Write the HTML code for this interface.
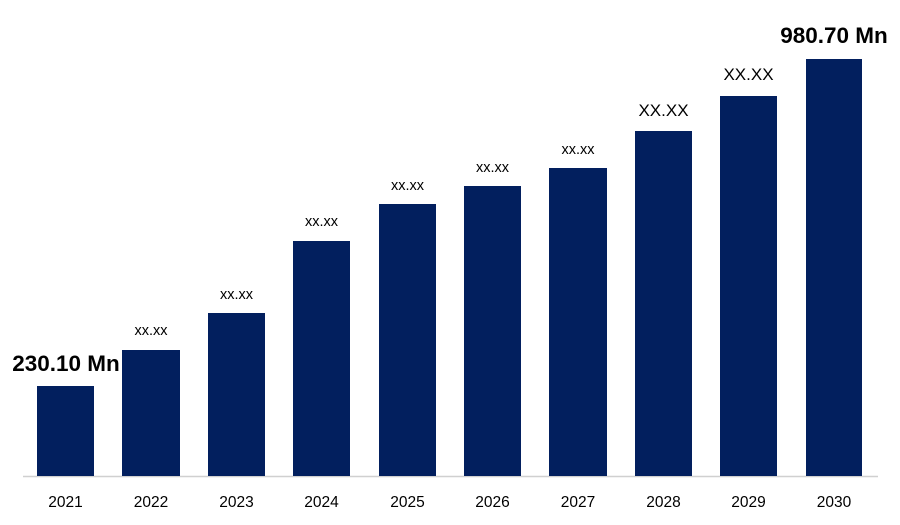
<!DOCTYPE html>
<html><head><style>body{margin:0;background:#fff}svg{display:block}</style></head><body>
<svg width="900" height="525" xmlns="http://www.w3.org/2000/svg" font-family="Liberation Sans, sans-serif">
<line x1="23" y1="476.5" x2="878" y2="476.5" stroke="#d0d0d0" stroke-width="1.5"/>
<g fill="#021f5e">
<rect x="37" y="386" width="57" height="90"/>
<rect x="122" y="350" width="58" height="126"/>
<rect x="208" y="313" width="57" height="163"/>
<rect x="293" y="241" width="57" height="235"/>
<rect x="379" y="204" width="57" height="272"/>
<rect x="464" y="186" width="57" height="290"/>
<rect x="549" y="168" width="58" height="308"/>
<rect x="635" y="131" width="57" height="345"/>
<rect x="720" y="96" width="57" height="380"/>
<rect x="806" y="59" width="56" height="417"/>
</g>
<g font-size="15.5" fill="#000" text-anchor="middle">
<text x="65.5" y="507">2021</text><text x="151" y="507">2022</text><text x="236.5" y="507">2023</text>
<text x="321.5" y="507">2024</text><text x="407.5" y="507">2025</text><text x="492.5" y="507">2026</text>
<text x="578" y="507">2027</text><text x="663.5" y="507">2028</text><text x="748.5" y="507">2029</text>
<text x="834" y="507">2030</text>
</g>
<g font-size="14.5" fill="#000" text-anchor="middle">
<text x="151" y="335">xx.xx</text><text x="236.5" y="299">xx.xx</text><text x="321.5" y="226">xx.xx</text>
<text x="407.5" y="190">xx.xx</text><text x="492.5" y="172">xx.xx</text><text x="578" y="154">xx.xx</text>
</g>
<g font-size="17" fill="#000" text-anchor="middle">
<text x="663.5" y="116">XX.XX</text><text x="748.5" y="80">XX.XX</text>
</g>
<g font-size="22.5" font-weight="bold" fill="#000" text-anchor="middle">
<text x="66" y="371">230.10 Mn</text><text x="834" y="43">980.70 Mn</text>
</g>
</svg>
</body></html>
